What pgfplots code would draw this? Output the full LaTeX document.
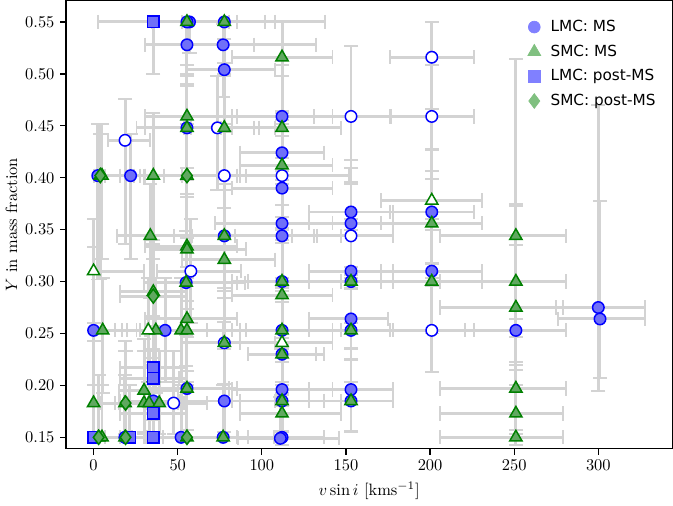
\documentclass[border=0pt]{standalone}
\usepackage{pgfplots}
\usepackage{pgfplotstable}
\usepackage{fontspec}
\pgfplotsset{compat=1.18}
\newfontfamily\dejavu{DejaVu Sans}
\definecolor{errgray}{RGB}{211,211,211}
\definecolor{mgreen}{RGB}{0,128,0}
\definecolor{bfill}{RGB}{112,112,248}
\definecolor{gfill}{RGB}{96,168,96}
\definecolor{blegend}{RGB}{128,128,255}
\definecolor{glegend}{RGB}{128,192,128}

\pgfplotstableread{
x y xm xp ym yp
57 0.55 22 45 0.03 0.00
55.5 0.55 20 30 0.05 0.00
77.7 0.55 25 60 0.04 0.00
55.5 0.528 25 40 0.04 0.02
77 0.528 20 55 0.05 0.02
77.7 0.504 22 30 0.06 0.03
112 0.459 30 30 0.04 0.05
55.5 0.448 30 20 0.05 0.05
112 0.424 25 25 0.05 0.04
2.5 0.402 2.5 25 0.10 0.05
22 0.402 15 20 0.08 0.04
112 0.39 30 30 0.05 0.05
153 0.367 25 25 0.06 0.05
201 0.367 25 25 0.05 0.06
112 0.356 40 30 0.06 0.05
153 0.356 25 25 0.05 0.04
77.7 0.344 30 55 0.06 0.05
112 0.344 28 35 0.05 0.05
153 0.31 25 25 0.05 0.05
201 0.31 30 30 0.06 0.05
55 0.299 25 35 0.08 0.05
112 0.30 20 35 0.05 0.05
153 0.30 25 25 0.05 0.05
300 0.275 25 28 0.08 0.195
301 0.264 25 27 0.057 0.114
153 0.264 25 22 0.04 0.05
0 0.253 0 20 0.10 0.08
42.5 0.253 15 25 0.05 0.05
112 0.253 25 35 0.06 0.05
153 0.253 25 25 0.05 0.05
251 0.253 30 30 0.10 0.12
112 0.23 20 20 0.05 0.05
55.5 0.197 25 30 0.04 0.05
112 0.196 30 30 0.04 0.05
153 0.196 25 25 0.04 0.04
35.5 0.185 20 15 0.03 0.05
77.7 0.185 30 30 0.03 0.05
112 0.185 25 35 0.03 0.05
153 0.185 25 25 0.03 0.04
18.6 0.15 15 15 0.0 0.06
52 0.15 20 25 0.0 0.05
77 0.15 25 30 0.0 0.05
112 0.15 20 25 0.0 0.05
111 0.149 25 35 0.0 0.04
}\lmcf

\pgfplotstableread{
x y xm xp ym yp
18.7 0.436 10 15 0.1 0.04
73.6 0.448 20 25 0.06 0.05
153 0.459 22 24 0.05 0.068
201 0.459 25 25 0.06 0.05
201 0.516 25 25 0.05 0.034
77.7 0.402 25 35 0.06 0.05
112 0.402 25 40 0.05 0.05
153 0.344 22 25 0.05 0.05
57.8 0.31 20 30 0.05 0.05
201 0.253 25 25 0.04 0.05
77.7 0.241 25 30 0.04 0.05
47.6 0.183 15 20 0.03 0.05
}\lmco

\pgfplotstableread{
x y xm xp ym yp
55.5 0.55 20 25 0.06 0
77.7 0.55 25 30 0.05 0
112 0.516 30 30 0.06 0.034
55.5 0.459 25 30 0.05 0.05
55.5 0.448 25 40 0.05 0.05
77.7 0.448 20 30 0.06 0.05
112 0.448 30 35 0.05 0.05
112 0.412 25 30 0.05 0.05
4 0.402 4 20 0.1 0.04
5 0.402 5 25 0.08 0.05
35.5 0.402 20 20 0.08 0.06
55.5 0.402 25 35 0.06 0.05
201 0.356 30 30 0.06 0.05
33.7 0.344 20 25 0.06 0.05
77.7 0.344 30 40 0.05 0.05
251 0.344 45 30 0.08 0.17
55.5 0.334 25 30 0.06 0.05
55.5 0.331 20 35 0.05 0.05
77.7 0.321 25 30 0.06 0.05
55 0.299 25 30 0.05 0.05
112 0.30 30 35 0.06 0.05
153 0.30 25 25 0.05 0.05
201 0.30 30 30 0.05 0.05
251 0.30 45 30 0.08 0.075
35.5 0.29 20 20 0.07 0.05
112 0.287 30 30 0.05 0.05
251 0.275 45 28 0.06 0.06
55.5 0.264 25 30 0.05 0.05
5.4 0.253 5 25 0.06 0.05
37 0.253 20 20 0.06 0.05
52 0.253 20 25 0.05 0.05
55.5 0.253 30 35 0.05 0.05
112 0.253 30 30 0.05 0.05
153 0.253 25 25 0.05 0.04
77.7 0.241 25 30 0.04 0.05
112 0.23 20 25 0.05 0.05
55.5 0.197 25 25 0.04 0.05
30 0.195 15 20 0.04 0.05
251 0.197 45 30 0.04 0.05
0 0.183 0 20 0.03 0.06
18.7 0.183 15 20 0.03 0.06
30 0.183 15 20 0.03 0.05
33 0.183 20 15 0.03 0.05
39 0.183 20 15 0.03 0.05
112 0.185 30 25 0.03 0.05
153 0.185 25 25 0.03 0.05
112 0.173 25 35 0.03 0.05
251 0.173 45 28 0.03 0.05
35.5 0.207 20 20 0.04 0.05
3 0.15 3 20 0 0.06
5 0.15 5 25 0 0.05
18.7 0.15 15 20 0 0.05
55.5 0.15 25 30 0 0.05
77 0.15 25 30 0 0.05
251 0.15 45 28 0 0.05
}\smcf

\pgfplotstableread{
x y xm xp ym yp
0 0.31 0 30 0.05 0.05
201 0.378 30 30 0.06 0.05
112 0.241 25 30 0.05 0.05
32.5 0.253 20 20 0.05 0.05
}\smco

\pgfplotstableread{
x y xm xp ym yp
35.5 0.55 33 20 0.05 0
35.5 0.217 20 20 0.04 0.05
35.5 0.207 20 15 0.04 0.05
35.5 0.173 20 20 0.02 0.05
0 0.15 0 20 0 0.05
21.5 0.15 15 20 0 0.05
35.5 0.15 20 20 0 0.05
}\lmcp

\pgfplotstableread{
x y xm xp ym yp
55.5 0.402 25 30 0.06 0.05
4 0.402 4 20 0.08 0.05
35.5 0.286 20 20 0.06 0.05
19 0.183 15 20 0.03 0.05
3 0.15 3 20 0 0.05
19 0.15 15 20 0 0.05
55.5 0.15 25 30 0 0.05
}\smcp

% error bars drawn from the tables: bars as quiver segments, caps as marks
\newcommand{\errbars}[1]{%
  \addplot[errline, quiver={u=0, v=\thisrow{yp}+\thisrow{ym}}] table[x=x, y expr=\thisrow{y}-\thisrow{ym}] {#1};
  \addplot[errline, quiver={u=\thisrow{xp}+\thisrow{xm}, v=0}] table[x expr=\thisrow{x}-\thisrow{xm}, y=y] {#1};
  \addplot[errcap, mark=-] table[x=x, y expr=\thisrow{y}+\thisrow{yp}] {#1};
  \addplot[errcap, mark=-] table[x=x, y expr=\thisrow{y}-\thisrow{ym}] {#1};
  \addplot[errcap, mark=|] table[x expr=\thisrow{x}+\thisrow{xp}, y=y] {#1};
  \addplot[errcap, mark=|] table[x expr=\thisrow{x}-\thisrow{xm}, y=y] {#1};
}

\begin{document}
\begin{tikzpicture}
\begin{axis}[
  scale only axis,
  width=369pt, height=272.7pt,
  xmin=-16.4, xmax=344, ymin=0.139, ymax=0.5705,
  xtick={0,50,100,150,200,250,300},
  ytick={0.15,0.20,0.25,0.30,0.35,0.40,0.45,0.50,0.55},
  yticklabel style={/pgf/number format/.cd, fixed, fixed zerofill, precision=2},
  tick align=outside, xtick pos=bottom, ytick pos=left,
  major tick length=3.5pt,
  axis line style={line width=0.8pt},
  every tick/.style={black, line width=0.8pt},
  xlabel={$v\sin i$ [kms$^{-1}$]},
  ylabel={$Y$ in mass fraction},
  ylabel style={yshift=-2pt},
  legend style={at={(0.985,0.97)}, anchor=north east, draw=none, fill=none,
    font=\dejavu\fontsize{9.3}{11}\selectfont, row sep=3.6pt, column sep=4.5pt, nodes={inner sep=1.5pt}},
  legend cell align=left,
  errline/.style={forget plot, draw=errgray, line width=1.8pt, -},
  errcap/.style={forget plot, only marks, mark size=4.3pt, draw=errgray, line width=1.2pt},
  lmcfill/.style={only marks, mark=*, mark size=3.5pt, mark options={draw=blue, fill=bfill, line width=0.9pt}},
  lmcopen/.style={only marks, mark=*, mark size=3.5pt, mark options={draw=blue, fill=white, line width=0.9pt}},
  smcfill/.style={only marks, mark=triangle*, mark size=4.3pt, mark options={draw=mgreen, fill=gfill, line width=0.9pt}},
  smcopen/.style={only marks, mark=triangle*, mark size=4.3pt, mark options={draw=mgreen, fill=white, line width=0.9pt}},
]
% error bars
\errbars{\lmcf}
\errbars{\lmco}
\errbars{\smcf}
\errbars{\smco}
\errbars{\lmcp}
\errbars{\smcp}
% markers
\addplot[lmcfill, forget plot] table[x=x,y=y] {\lmcf};
\addplot[lmcopen, forget plot] table[x=x,y=y] {\lmco};
\addplot[smcfill, forget plot] table[x=x,y=y] {\smcf};
\addplot[smcopen, forget plot] table[x=x,y=y] {\smco};
\addplot[only marks, mark=square*, mark size=3.5pt, mark options={draw=blue, fill=bfill, line width=0.9pt}, forget plot] table[x=x,y=y] {\lmcp};
\addplot[only marks, mark=diamond*, mark size=4.3pt, mark options={draw=mgreen, fill=gfill, line width=0.9pt}, forget plot] table[x=x,y=y] {\smcp};
% legend
\addlegendimage{only marks, mark=*, mark size=3.6pt, draw=blegend, fill=blegend}
\addlegendentry{LMC: MS}
\addlegendimage{only marks, mark=triangle*, mark size=4.5pt, draw=glegend, fill=glegend}
\addlegendentry{SMC: MS}
\addlegendimage{only marks, mark=square*, mark size=3.6pt, draw=blegend, fill=blegend}
\addlegendentry{LMC: post-MS}
\addlegendimage{only marks, mark=diamond*, mark size=4.5pt, draw=glegend, fill=glegend}
\addlegendentry{SMC: post-MS}
\end{axis}
\end{tikzpicture}
\end{document}
